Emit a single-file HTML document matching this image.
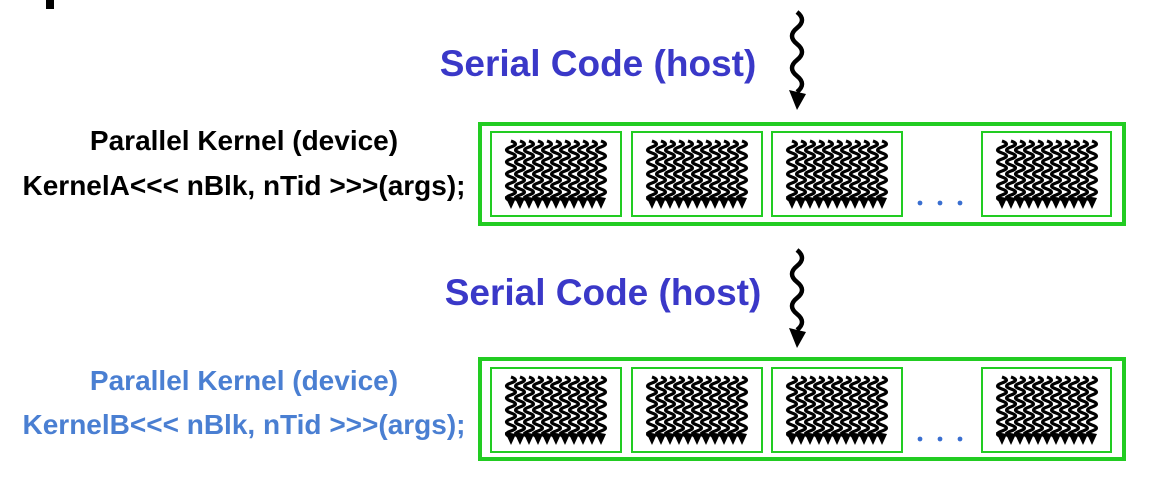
<!DOCTYPE html>
<html><head><style>
html,body{margin:0;padding:0;background:#fff;width:1150px;height:479px;overflow:hidden}
svg{display:block}
</style></head><body>
<svg width="1150" height="479" viewBox="0 0 1150 479" xmlns="http://www.w3.org/2000/svg">
<defs>
<g id="th">
<path d="M0,0 q9,3 0,6 q-9,3 0,6 q9,3 0,6 q-9,3 0,6 q9,3 0,6 q-9,3 0,6 q9,3 0,6 q-9,3 0,6 q9,3 0,6 q-9,3 0,6" fill="none" stroke="#000" stroke-width="3.2"/>
<polygon points="-6,55 5,57 0,68" fill="#000"/>
</g>
<g id="blk">
<use href="#th" x="20" y="9"/><use href="#th" x="29" y="9"/><use href="#th" x="38" y="9"/>
<use href="#th" x="47" y="9"/><use href="#th" x="56" y="9"/><use href="#th" x="65" y="9"/>
<use href="#th" x="74" y="9"/><use href="#th" x="83" y="9"/><use href="#th" x="92" y="9"/>
<use href="#th" x="101" y="9"/><use href="#th" x="110" y="9"/>
</g>
<g id="ser">
<path d="M797,12 q10,8 0,16 q-10,8 0,16 q10,8 0,16 q-10,8 0,16 q10,8 0,16" fill="none" stroke="#000" stroke-width="4.5"/>
<polygon points="789,90 806,94 797,110" fill="#000"/>
</g>
</defs>
<rect x="46" y="0" width="8" height="9" fill="#000"/>
<use href="#ser"/>
<use href="#ser" y="238"/>
<text x="598" y="76" font-family="Liberation Sans, sans-serif" font-weight="bold" font-size="37" fill="#3a38c8" text-anchor="middle">Serial Code (host)</text>
<text x="603" y="305" font-family="Liberation Sans, sans-serif" font-weight="bold" font-size="37" fill="#3a38c8" text-anchor="middle">Serial Code (host)</text>
<g font-family="Liberation Sans, sans-serif" font-weight="bold" font-size="28" text-anchor="middle">
<text x="244" y="150" fill="#000">Parallel Kernel (device)</text>
<text x="244" y="195" fill="#000">KernelA&lt;&lt;&lt; nBlk, nTid &gt;&gt;&gt;(args);</text>
<text x="244" y="390" fill="#4a7fd2">Parallel Kernel (device)</text>
<text x="244" y="434" fill="#4a7fd2">KernelB&lt;&lt;&lt; nBlk, nTid &gt;&gt;&gt;(args);</text>
</g>
<g fill="none" stroke="#22cc22">
<rect x="480" y="124" width="644" height="100" stroke-width="4"/>
<rect x="491" y="132" width="130" height="84" stroke-width="2"/>
<rect x="632" y="132" width="130" height="84" stroke-width="2"/>
<rect x="772" y="132" width="130" height="84" stroke-width="2"/>
<rect x="982" y="132" width="129" height="84" stroke-width="2"/>
<rect x="480" y="359" width="644" height="100" stroke-width="4"/>
<rect x="491" y="368" width="130" height="84" stroke-width="2"/>
<rect x="632" y="368" width="130" height="84" stroke-width="2"/>
<rect x="772" y="368" width="130" height="84" stroke-width="2"/>
<rect x="982" y="368" width="129" height="84" stroke-width="2"/>
</g>
<use href="#blk" x="491" y="132"/><use href="#blk" x="632" y="132"/><use href="#blk" x="772" y="132"/><use href="#blk" x="982" y="132"/>
<use href="#blk" x="491" y="368"/><use href="#blk" x="632" y="368"/><use href="#blk" x="772" y="368"/><use href="#blk" x="982" y="368"/>
<g fill="#3a6fd0">
<circle cx="920" cy="203" r="2.4"/><circle cx="940" cy="203" r="2.4"/><circle cx="960" cy="203" r="2.4"/>
<circle cx="920" cy="439" r="2.4"/><circle cx="940" cy="439" r="2.4"/><circle cx="960" cy="439" r="2.4"/>
</g>
</svg>
</body></html>
